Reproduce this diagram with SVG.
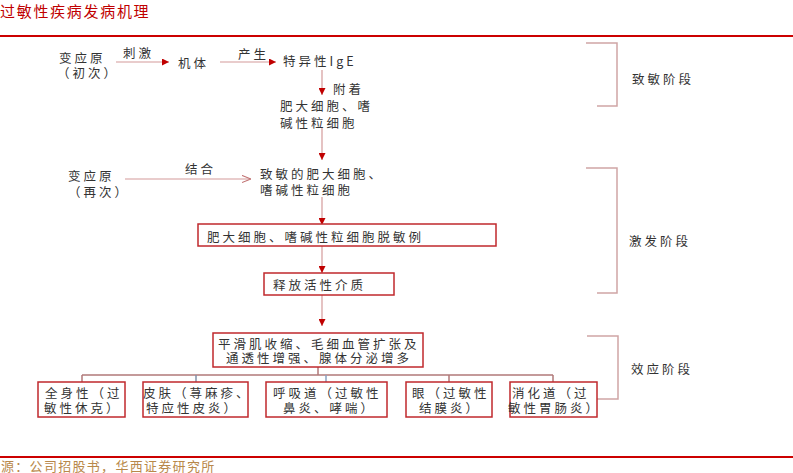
<svg xmlns="http://www.w3.org/2000/svg" width="793" height="473" viewBox="0 0 793 473">
<defs>
<style>
.t{font-family:"Noto Sans CJK SC","Noto Sans",sans-serif;font-size:12.5px;letter-spacing:3px;fill:#333;dominant-baseline:central}
.box{fill:#fff;stroke:#c0282d;stroke-width:1.5}
.ln{stroke:#d49a9a;stroke-width:1.2;fill:none}
.tr{stroke:#b07878;stroke-width:1.5;fill:none}
.br{stroke:#cfa5a5;stroke-width:1.5;fill:none}
</style>
<marker id="ah" viewBox="0 0 10 10" refX="10" refY="5" markerWidth="8" markerHeight="7" markerUnits="userSpaceOnUse" orient="auto"><path d="M0,0 L10,5 L0,10z" fill="#c00000"/></marker>
<marker id="oa" viewBox="0 0 10 10" refX="10" refY="5" markerWidth="9" markerHeight="9" markerUnits="userSpaceOnUse" orient="auto"><path d="M0,1 L10,5 L0,9" fill="none" stroke="#c07070" stroke-width="1.2"/></marker>
</defs>
<rect width="793" height="473" fill="#fff"/>
<text x="0" y="10" class="t" style="font-size:15px;letter-spacing:1.7px;fill:#c00000">过敏性疾病发病机理</text>
<line x1="0" y1="36" x2="793" y2="36" stroke="#cc0000" stroke-width="2"/>
<line x1="0" y1="457" x2="793" y2="457" stroke="#cc0000" stroke-width="2"/>
<text x="1" y="465" class="t" style="font-size:13px;letter-spacing:1.3px;fill:#b8884a">源：公司招股书，华西证券研究所</text>

<g id="connectors">
<line class="ln" x1="116" y1="62" x2="169" y2="62" marker-end="url(#ah)"/>
<line class="ln" x1="220" y1="62" x2="276" y2="62" marker-end="url(#ah)"/>
<line class="ln" x1="322" y1="70" x2="322" y2="95" marker-end="url(#ah)"/>
<line class="ln" x1="322" y1="128" x2="322" y2="160" marker-end="url(#ah)"/>
<line class="ln" x1="125" y1="179" x2="251" y2="179" marker-end="url(#oa)"/>
<line class="ln" x1="322" y1="197" x2="322" y2="225" marker-end="url(#ah)"/>
<line class="ln" x1="322" y1="246" x2="322" y2="273" marker-end="url(#ah)"/>
<line class="ln" x1="322" y1="295" x2="322" y2="326" marker-end="url(#ah)"/>
<line class="tr" x1="318" y1="367" x2="318" y2="375" stroke="#a04848"/>
<line class="tr" x1="82" y1="375" x2="553" y2="375"/>
<line class="tr" x1="82" y1="375" x2="82" y2="382"/>
<line class="tr" x1="196" y1="375" x2="196" y2="382" style="stroke:#8090a8"/>
<line class="tr" x1="326" y1="375" x2="326" y2="382" style="stroke:#88a0c0"/>
<line class="tr" x1="449" y1="375" x2="449" y2="382"/>
<line class="tr" x1="553" y1="375" x2="553" y2="382"/>
<polyline class="br" points="586,43 617,43 617,106 597,106"/>
<polyline class="br" points="586,168 617,168 617,293 597,293"/>
<polyline class="br" points="587,336 618,336 618,399 597,399"/>
</g>

<g id="allergen1"><text x="59" y="57" class="t">变应原</text><text x="57" y="72" class="t">（初次）</text></g>
<g id="label-stim"><text x="123" y="52" class="t">刺激</text></g>
<g id="body"><text x="178" y="62" class="t">机体</text></g>
<g id="label-produce"><text x="238" y="53" class="t">产生</text></g>
<g id="ige"><text x="283" y="60" class="t">特异性IgE</text></g>
<g id="label-attach"><text x="333" y="88" class="t">附着</text></g>
<g id="cells"><text x="280" y="105" class="t">肥大细胞、嗜</text><text x="280" y="122" class="t">碱性粒细胞</text></g>
<g id="allergen2"><text x="68" y="175" class="t">变应原</text><text x="68" y="191" class="t">（再次）</text></g>
<g id="label-bind"><text x="185" y="168" class="t">结合</text></g>
<g id="sensitized"><text x="260" y="173" class="t">致敏的肥大细胞、</text><text x="260" y="189" class="t">嗜碱性粒细胞</text></g>
<g id="degranulation"><rect class="box" x="198" y="224" width="298" height="22"/><text x="207" y="236" class="t">肥大细胞、嗜碱性粒细胞脱敏例</text></g>
<g id="release"><rect class="box" x="264" y="273" width="130" height="22"/><text x="273" y="284" class="t">释放活性介质</text></g>
<g id="effects"><rect class="box" x="213" y="333" width="210" height="34"/><text x="218" y="343" class="t">平滑肌收缩、毛细血管扩张及</text><text x="226" y="357" class="t">通透性增强、腺体分泌增多</text></g>
<g id="systemic"><rect class="box" x="38" y="382" width="87" height="35"/><text x="45" y="392" class="t">全身性（过</text><text x="44" y="407" class="t">敏性休克）</text></g>
<g id="skin"><rect class="box" x="143" y="382" width="105" height="35"/><text x="143" y="392" class="t">皮肤（荨麻疹、</text><text x="146" y="407" class="t">特应性皮炎）</text></g>
<g id="respiratory"><rect class="box" x="266" y="382" width="121" height="35"/><text x="273" y="392" class="t">呼吸道（过敏性</text><text x="283" y="407" class="t">鼻炎、哮喘）</text></g>
<g id="eye"><rect class="box" x="406" y="382" width="86" height="35"/><text x="412" y="392" class="t">眼（过敏性</text><text x="419" y="407" class="t">结膜炎）</text></g>
<g id="digestive"><rect class="box" x="510" y="382" width="87" height="35"/><text x="512" y="392" class="t">消化道（过</text><text x="508" y="407" class="t">敏性胃肠炎）</text></g>
<g id="stage1"><text x="632" y="78" class="t">致敏阶段</text></g>
<g id="stage2"><text x="629" y="240" class="t">激发阶段</text></g>
<g id="stage3"><text x="631" y="368" class="t">效应阶段</text></g>
</svg>
